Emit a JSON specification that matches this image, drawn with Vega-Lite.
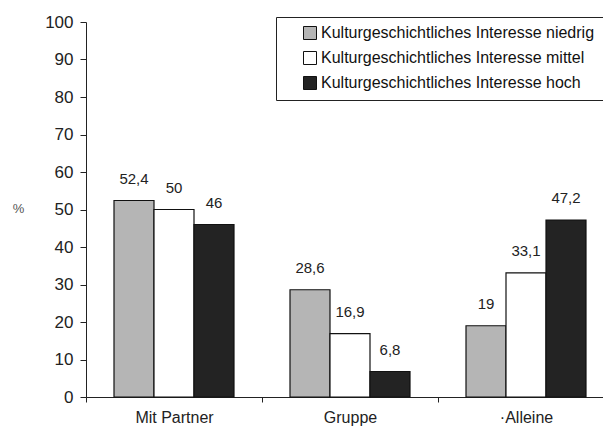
{
  "$schema": "https://vega.github.io/schema/vega-lite/v6.json",
  "width": 528,
  "height": 375,
  "autosize": "none",
  "padding": {"left": 86, "top": 22, "right": 0, "bottom": 31},
  "background": "white",
  "config": {
    "font": "Liberation Sans",
    "view": {"stroke": null},
    "locale": {"number": {"decimal": ",", "thousands": ".", "grouping": [3], "currency": ["", " €"]}}
  },
  "data": {
    "values": [
      {"Begleitung": "Mit Partner", "Interesse": "Kulturgeschichtliches Interesse niedrig", "Prozent": 52.4},
      {"Begleitung": "Mit Partner", "Interesse": "Kulturgeschichtliches Interesse mittel", "Prozent": 50},
      {"Begleitung": "Mit Partner", "Interesse": "Kulturgeschichtliches Interesse hoch", "Prozent": 46},
      {"Begleitung": "Gruppe", "Interesse": "Kulturgeschichtliches Interesse niedrig", "Prozent": 28.6},
      {"Begleitung": "Gruppe", "Interesse": "Kulturgeschichtliches Interesse mittel", "Prozent": 16.9},
      {"Begleitung": "Gruppe", "Interesse": "Kulturgeschichtliches Interesse hoch", "Prozent": 6.8},
      {"Begleitung": "·Alleine", "Interesse": "Kulturgeschichtliches Interesse niedrig", "Prozent": 19},
      {"Begleitung": "·Alleine", "Interesse": "Kulturgeschichtliches Interesse mittel", "Prozent": 33.1},
      {"Begleitung": "·Alleine", "Interesse": "Kulturgeschichtliches Interesse hoch", "Prozent": 47.2}
    ]
  },
  "encoding": {
    "x": {
      "field": "Begleitung",
      "type": "nominal",
      "sort": ["Mit Partner", "Gruppe", "·Alleine"],
      "scale": {"paddingInner": 0, "paddingOuter": 0},
      "axis": {
        "title": null,
        "labelAngle": 0,
        "tickBand": "extent",
        "tickSize": 5,
        "labelFontSize": 16,
        "labelPadding": 7,
        "labelColor": "#222",
        "domainColor": "#222",
        "tickColor": "#222"
      }
    },
    "xOffset": {
      "field": "Interesse",
      "type": "nominal",
      "sort": [
        "Kulturgeschichtliches Interesse niedrig",
        "Kulturgeschichtliches Interesse mittel",
        "Kulturgeschichtliches Interesse hoch"
      ],
      "scale": {"paddingInner": 0, "paddingOuter": 0.7}
    },
    "y": {
      "field": "Prozent",
      "type": "quantitative",
      "scale": {"domain": [0, 100], "nice": false},
      "axis": {
        "title": "%",
        "titleAngle": 0,
        "titleX": -68,
        "titleY": 186,
        "titleAlign": "center",
        "titleBaseline": "middle",
        "titleFontSize": 13,
        "titleFontWeight": "normal",
        "titleColor": "#555",
        "values": [0, 10, 20, 30, 40, 50, 60, 70, 80, 90, 100],
        "grid": false,
        "tickSize": 6,
        "labelPadding": 7,
        "labelFontSize": 17,
        "labelColor": "#222",
        "domainColor": "#222",
        "tickColor": "#222"
      }
    }
  },
  "layer": [
    {
      "mark": {"type": "bar", "stroke": "#111", "strokeWidth": 1.2},
      "encoding": {
        "color": {
          "field": "Interesse",
          "type": "nominal",
          "scale": {
            "domain": [
              "Kulturgeschichtliches Interesse niedrig",
              "Kulturgeschichtliches Interesse mittel",
              "Kulturgeschichtliches Interesse hoch"
            ],
            "range": ["#b5b5b5", "#ffffff", "#232323"]
          },
          "legend": {
            "title": null,
            "orient": "none",
            "legendX": 190,
            "legendY": -5,
            "direction": "vertical",
            "padding": 8,
            "strokeColor": "#222",
            "symbolType": "square",
            "symbolSize": 169,
            "symbolOffset": 18,
            "symbolStrokeColor": "#111",
            "symbolStrokeWidth": 1,
            "labelOffset": 3,
            "labelFontSize": 16,
            "labelColor": "#111",
            "labelLimit": 400,
            "rowPadding": 7
          }
        }
      }
    },
    {
      "mark": {"type": "text", "baseline": "middle", "dy": -22, "fontSize": 15, "color": "#222"},
      "encoding": {
        "text": {"field": "Prozent", "type": "quantitative", "format": ".1~f"}
      }
    }
  ]
}
